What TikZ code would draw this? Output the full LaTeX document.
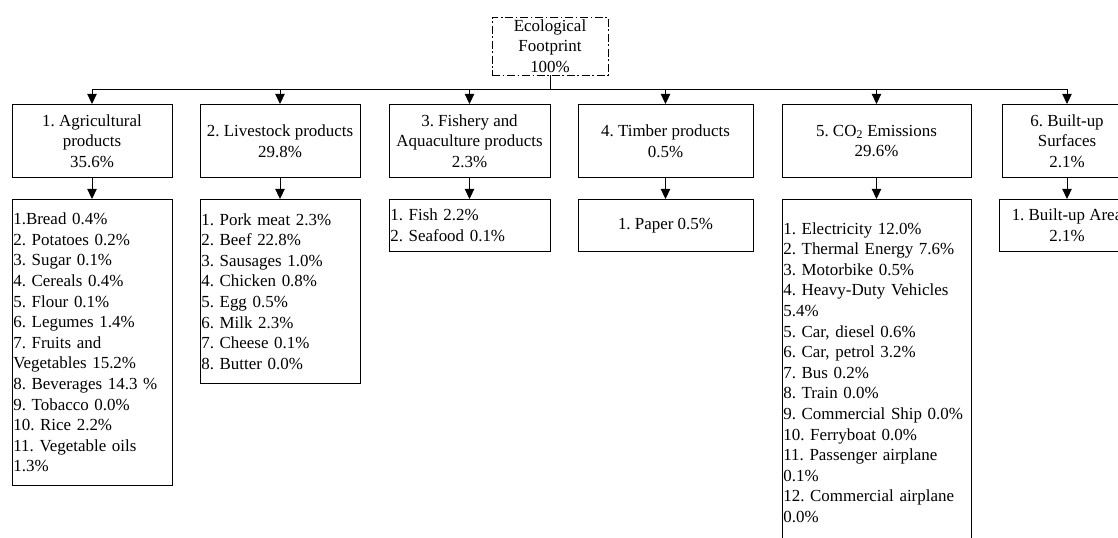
\documentclass[tikz,border=0pt]{standalone}
\usepackage{fontspec}
\setmainfont{Liberation Serif}
\usetikzlibrary{arrows.meta}
\frenchspacing

\begin{document}
\begin{tikzpicture}[x=0.75pt,y=-0.75pt,line width=0.7pt,
	font=\fontsize{12.7}{15.45}\selectfont,
	>={Triangle[length=7.5pt,width=7pt]},
	hdr/.style={draw, anchor=north, align=center, inner sep=1pt, minimum height=54.75pt},
	lst/.style={draw, anchor=north, align=left, inner xsep=1pt, inner ysep=1pt},
	ctr/.style={draw, anchor=north, align=center, inner sep=1pt}]
\useasboundingbox (0,0) rectangle (1118,538);

%----------------------------
% Top: total footprint
%----------------------------
\node[draw, dash pattern=on 6pt off 2pt on 1.2pt off 2pt, align=center,
	inner sep=1pt, minimum width=87pt, minimum height=43.5pt]
	(eco) at (550,46) {Ecological\\Footprint\\100\%};
\coordinate (bus) at (550,89);

%----------------------------
% Categories
%----------------------------
\node[hdr, minimum width=120pt] (agr) at (92,104) {1. Agricultural\\products\\35.6\%};
\node[hdr, minimum width=120pt] (liv) at (280,104) {2. Livestock products\\29.8\%};
\node[hdr, minimum width=120.75pt] (fish) at (469.5,104) {3. Fishery and\\Aquaculture products\\2.3\%};
\node[hdr, minimum width=131.25pt] (timb) at (665.5,104) {4. Timber products\\0.5\%};
\node[hdr, minimum width=141.75pt] (co2) at (876.5,104) {5. CO\textsubscript{2} Emissions\\29.6\%};
\node[hdr, minimum width=97.5pt] (built) at (1067,104) {6. Built-up\\Surfaces\\2.1\%};

%----------------------------
% Items of each category
%----------------------------
\node[lst, text width=118pt, minimum height=214.5pt] (agrl) at (92,199)
	{1.Bread 0.4\%\\2. Potatoes 0.2\%\\3. Sugar 0.1\%\\4. Cereals 0.4\%\\5. Flour 0.1\%\\
	6. Legumes 1.4\%\\7. Fruits and\\Vegetables 15.2\%\\8. Beverages 14.3 \%\\
	9. Tobacco 0.0\%\\10. Rice 2.2\%\\11. Vegetable oils\\1.3\%};
\node[lst, text width=118pt, minimum height=138pt] (livl) at (280,199)
	{1. Pork meat 2.3\%\\2. Beef 22.8\%\\3. Sausages 1.0\%\\4. Chicken 0.8\%\\
	5. Egg 0.5\%\\6. Milk 2.3\%\\7. Cheese 0.1\%\\8. Butter 0.0\%};
\node[lst, text width=118.75pt, minimum height=39pt] (fishl) at (469.5,199)
	{1. Fish 2.2\%\\2. Seafood 0.1\%};
\node[ctr, minimum width=131.25pt, minimum height=39pt] (timbl) at (665.5,199)
	{1. Paper 0.5\%};
\node[lst, text width=139.75pt, minimum height=259.5pt] (co2l) at (876.5,199)
	{1. Electricity 12.0\%\\2. Thermal Energy 7.6\%\\3. Motorbike 0.5\%\\
	4. Heavy-Duty Vehicles\\5.4\%\\5. Car, diesel 0.6\%\\6. Car, petrol 3.2\%\\
	7. Bus 0.2\%\\8. Train 0.0\%\\9. Commercial Ship 0.0\%\\10. Ferryboat 0.0\%\\
	11. Passenger airplane\\0.1\%\\12. Commercial airplane\\0.0\%};
\node[ctr, minimum width=102pt, minimum height=39pt] (builtl) at (1067,199)
	{1. Built-up Area\\2.1\%};

%----------------------------
% Connectors
%----------------------------
\draw (eco.south) -- (bus);
\foreach \n in {agr,liv,fish,timb,co2,built}
	\draw[->] (bus) -| (\n.north);
\foreach \n in {agr,liv,fish,timb,co2,built}
	\draw[->] (\n.south) -- (\n l.north);

\end{tikzpicture}
\end{document}
